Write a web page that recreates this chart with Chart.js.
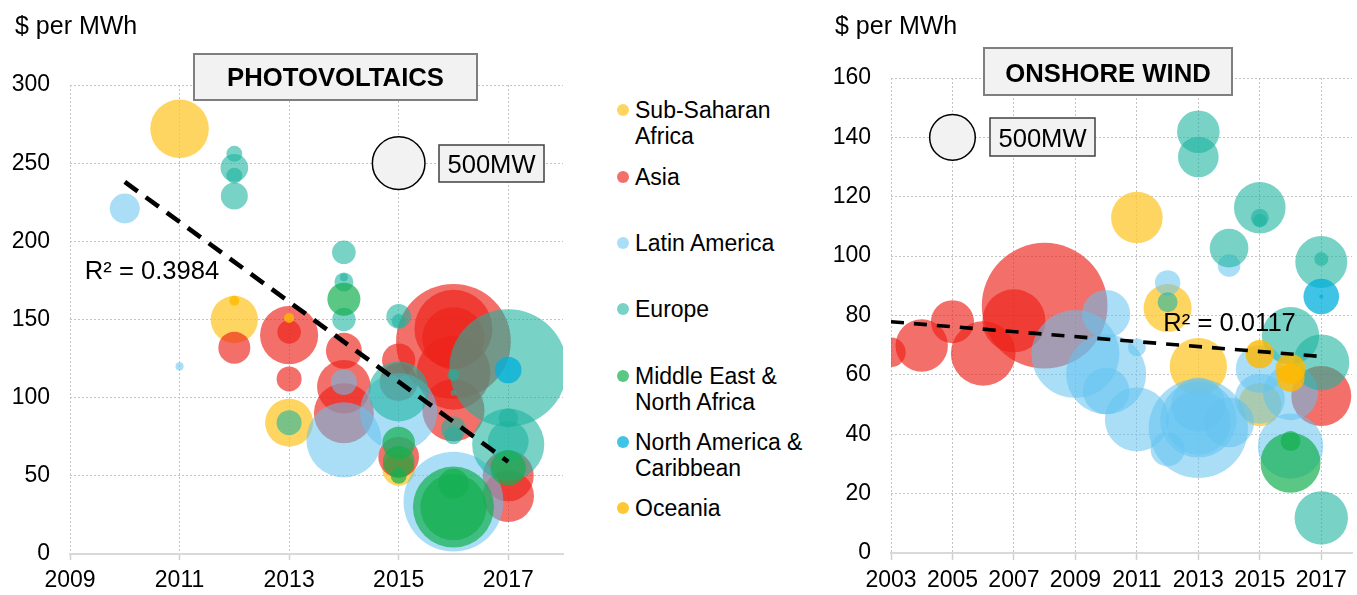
<!DOCTYPE html>
<html>
<head>
<meta charset="utf-8">
<script src="https://cdn.jsdelivr.net/npm/chart.js@4"></script>
<style>
  body { margin: 0; background: #fff; width: 1357px; height: 595px; position: relative; overflow: hidden;
         font-family: "Liberation Sans", Arial, sans-serif; }
  #pv { position: absolute; left: 0; top: 0; }
  #wind { position: absolute; left: 820px; top: 0; }
  .leg { position: absolute; left: 635px; font-size: 23px; line-height: 26px; color: #000; white-space: nowrap; }
  .leg i { position: absolute; left: -18px; top: 7px; width: 12px; height: 12px; border-radius: 50%; }
</style>
</head>
<body>
<canvas id="pv" width="575" height="595"></canvas>
<canvas id="wind" width="537" height="595"></canvas>
<div id="legend"></div>
<script>
// rows are [year, $ per MWh, capacity MW]
const regions = ["Sub-Saharan Africa", "Asia", "Latin America", "Europe",
  "Middle East & North Africa", "North America & Caribbean", "Oceania"];
const legendLines = [["Sub-Saharan", "Africa"], ["Asia"], ["Latin America"], ["Europe"],
  ["Middle East &", "North Africa"], ["North America &", "Caribbean"], ["Oceania"]];

const pvXTicks = [2009, 2011, 2013, 2015, 2017];
const windXTicks = [2003, 2005, 2007, 2009, 2011, 2013, 2015, 2017];

const pvSSA = [[2011, 272, 620], [2012, 150, 405], [2013, 84, 416], [2015, 54, 190]];
const pvAsia = [[2012, 132, 185], [2013, 140, 610], [2013, 142, 100], [2013, 112, 113], [2014, 130, 234],
  [2014, 107, 520], [2014, 90, 650], [2015, 124, 200], [2015, 110, 260], [2015, 62, 300],
  [2016, 136, 2380], [2016, 144, 1100], [2016, 138, 700], [2016, 116, 990], [2016, 92, 700],
  [2017, 50, 470], [2017, 37, 480]];
const pvLatAm = [[2010, 221, 163], [2011, 120, 12], [2014, 110, 122], [2014, 73, 1017],
  [2015, 91, 1080], [2016, 33.5, 1800]];
const pvEurope = [[2012, 256, 46], [2012, 247, 138], [2012, 242, 46], [2012, 229, 132], [2013, 84, 113],
  [2014, 193, 101], [2014, 174, 65], [2014, 177, 12], [2014, 150, 99], [2015, 152, 110], [2015, 149, 35],
  [2015, 104, 650], [2016, 114.5, 26], [2016, 103, 6], [2016, 80, 110], [2016, 76, 60],
  [2017, 119, 2500], [2017, 87, 70], [2017, 70, 940], [2017, 72, 300]];
const pvMENA = [[2014, 163, 197], [2015, 71, 192], [2015, 59, 180], [2015, 50, 46],
  [2016, 30, 1186], [2016, 30, 790], [2016, 45, 163], [2017, 55, 226]];
const pvNorthAm = [[2017, 117.7, 128]];
const pvOceania = [[2012, 162, 18], [2013, 151, 18]];
const pvKey = [[2015, 250, 500]];
const pvTrend = [[2010, 238], [2017, 59]];

const windSSA = [[2011, 113, 640], [2012, 82.5, 555], [2013, 62.8, 790], [2015, 50, 450]];
const windAsia = [[2003, 67.6, 208], [2004, 69.9, 660], [2005, 77.9, 445], [2006, 67.2, 1005],
  [2007, 78.2, 954], [2008, 83.3, 3800], [2017, 52.9, 866]];
const windLatAm = [[2009, 67, 1862], [2010, 80.5, 555], [2010, 60.2, 1540], [2010, 54.6, 520],
  [2011, 69.3, 78], [2011, 45, 985], [2012, 91, 155], [2012, 34.9, 278], [2013, 42, 2370],
  [2013, 45, 1400], [2013, 50, 700], [2013, 44, 1000], [2014, 96.8, 123], [2014, 44, 600],
  [2015, 62, 555], [2015, 52, 600], [2016, 54, 727], [2016, 36, 1028]];
const windEurope = [[2012, 84.5, 96], [2013, 141.9, 436], [2013, 133.4, 397], [2014, 102.7, 360],
  [2015, 116.3, 640], [2015, 112.9, 78], [2015, 112, 45], [2016, 73.2, 790], [2017, 98, 650],
  [2017, 99, 47], [2017, 64.2, 754], [2017, 11.8, 685]];
const windMENA = [[2016, 30.4, 866], [2016, 37.7, 96]];
const windNorthAm = [[2017, 86.4, 305], [2017, 86.4, 4]];
const windOceania = [[2015, 67, 194], [2016, 62, 216], [2016, 59, 190]];
const windKey = [[2005, 140, 500]];
const windTrend = [[2003, 77.9], [2017, 66.2]];

const colors = ["rgba(255,199,44,0.75)", "rgba(236,34,24,0.65)", "rgba(100,195,240,0.55)",
  "rgba(30,180,160,0.6)", "rgba(20,175,80,0.7)", "rgba(0,175,220,0.75)", "rgba(255,185,0,0.8)"];
const FONT = '"Liberation Sans", Arial, sans-serif';

Chart.defaults.font.family = FONT;
Chart.defaults.color = "#000";

// legend (html, between the two charts)
const legendTops = [97, 164, 230, 296, 363, 429, 495];
const legend = document.getElementById("legend");
regions.forEach((name, i) => {
  const d = document.createElement("div");
  d.className = "leg";
  d.style.top = legendTops[i] + "px";
  d.innerHTML = '<i style="background:' + colors[i] + '"></i>' + legendLines[i].join("<br>");
  legend.appendChild(d);
});

function drawBox(ctx, b, font, stroke, lw) {
  ctx.fillStyle = "#F2F2F2";
  ctx.fillRect(b.x, b.y, b.w, b.h);
  ctx.strokeStyle = stroke;
  ctx.lineWidth = lw;
  ctx.strokeRect(b.x, b.y, b.w, b.h);
  ctx.fillStyle = "#000";
  ctx.font = font;
  ctx.textAlign = "center";
  ctx.fillText(b.text, b.x + b.w / 2, b.base);
}

const overlay = {
  id: "overlay",
  afterDraw(chart, args, o) {
    const ctx = chart.ctx;
    ctx.save();
    ctx.textBaseline = "alphabetic";
    ctx.fillStyle = "#000";
    ctx.textAlign = "left";
    ctx.font = "25px " + FONT;
    ctx.fillText("$ per MWh", 15, 34);
    drawBox(ctx, o.title, "bold 25.7px " + FONT, "#7F7F7F", 2);
    drawBox(ctx, o.key, "25.6px " + FONT, "#404040", 1.5);
    ctx.font = "25.6px " + FONT;
    ctx.textAlign = "left";
    ctx.fillStyle = "#000";
    ctx.fillText(o.r2text, chart.scales.x.getPixelForValue(o.r2x), chart.scales.y.getPixelForValue(o.r2y));
    ctx.restore();
  }
};

function bubbles(rows, r500) {
  return rows.map(([x, y, mw]) => ({ x: x, y: y, r: r500 * Math.sqrt(mw / 500) }));
}

function makeChart(id, c) {
  const datasets = [{
    type: "line",
    data: c.trend.map(([x, y]) => ({ x: x, y: y })),
    borderColor: "#000", borderWidth: c.lw, borderDash: c.dash,
    pointRadius: 0, fill: false, order: 0
  }, {
    data: bubbles(c.key, c.r500),
    backgroundColor: "#F2F2F2", borderColor: "#000", borderWidth: 1.5, order: 1
  }];
  c.series.forEach((rows, i) => {
    datasets.push({
      label: regions[i],
      data: bubbles(rows, c.r500),
      backgroundColor: colors[i], borderWidth: 0,
      order: 10 - i
    });
  });
  return new Chart(document.getElementById(id), {
    type: "bubble",
    data: { datasets: datasets },
    options: {
      responsive: false,
      animation: false,
      events: [],
      layout: { autoPadding: false, padding: { top: c.top, right: c.right, left: 0, bottom: 0 } },
      plugins: { legend: { display: false }, tooltip: { enabled: false }, overlay: c.overlay },
      scales: {
        x: {
          type: "linear", min: c.xMin, max: c.xMax,
          afterBuildTicks: s => { s.ticks = c.xTicks.map(v => ({ value: v })); },
          afterFit: s => { s.height = c.xh; },
          grid: { color: "#C4C4C4", tickLength: c.tl, tickColor: "#D0D0D0", tickWidth: 1.5 },
          border: { display: true, color: "#D9D9D9", width: 2, dash: [2, 2] },
          ticks: { padding: 7, font: { size: 23 }, color: "#000", maxRotation: 0, autoSkip: false,
                   callback: v => String(v) }
        },
        y: {
          min: 0, max: c.yMax,
          afterFit: s => { s.width = c.yw; },
          grid: { color: "#C4C4C4", drawTicks: false },
          border: { display: false, dash: [2, 2] },
          ticks: { stepSize: c.yStep, padding: 20, font: { size: 23 }, color: "#000" }
        }
      }
    },
    plugins: [overlay]
  });
}

makeChart("pv", {
  series: [pvSSA, pvAsia, pvLatAm, pvEurope, pvMENA, pvNorthAm, pvOceania],
  key: pvKey, trend: pvTrend, dash: [16, 10], lw: 4.6, r500: 26.3,
  xMin: 2009, xMax: 2018, xTicks: pvXTicks, yMax: 300, yStep: 50,
  top: 85, right: 12, xh: 41, yw: 70, tl: 6,
  overlay: {
    title: { x: 194, y: 54, w: 283, h: 46, text: "PHOTOVOLTAICS", base: 86 },
    key: { x: 439, y: 145, w: 105, h: 37, text: "500MW", base: 173 },
    r2text: "R² = 0.3984", r2x: 2009.27, r2y: 176
  }
});

makeChart("wind", {
  series: [windSSA, windAsia, windLatAm, windEurope, windMENA, windNorthAm, windOceania],
  key: windKey, trend: windTrend, dash: [13, 10], lw: 3.6, r500: 22.8,
  xMin: 2003, xMax: 2018, xTicks: windXTicks, yMax: 160, yStep: 20,
  top: 78, right: 5, xh: 42, yw: 71, tl: 7,
  overlay: {
    title: { x: 164, y: 48, w: 248, h: 47, text: "ONSHORE WIND", base: 82 },
    key: { x: 170, y: 118, w: 105, h: 38, text: "500MW", base: 147 },
    r2text: "R² = 0.0117", r2x: 2011.86, r2y: 74.9
  }
});
</script>
</body>
</html>
